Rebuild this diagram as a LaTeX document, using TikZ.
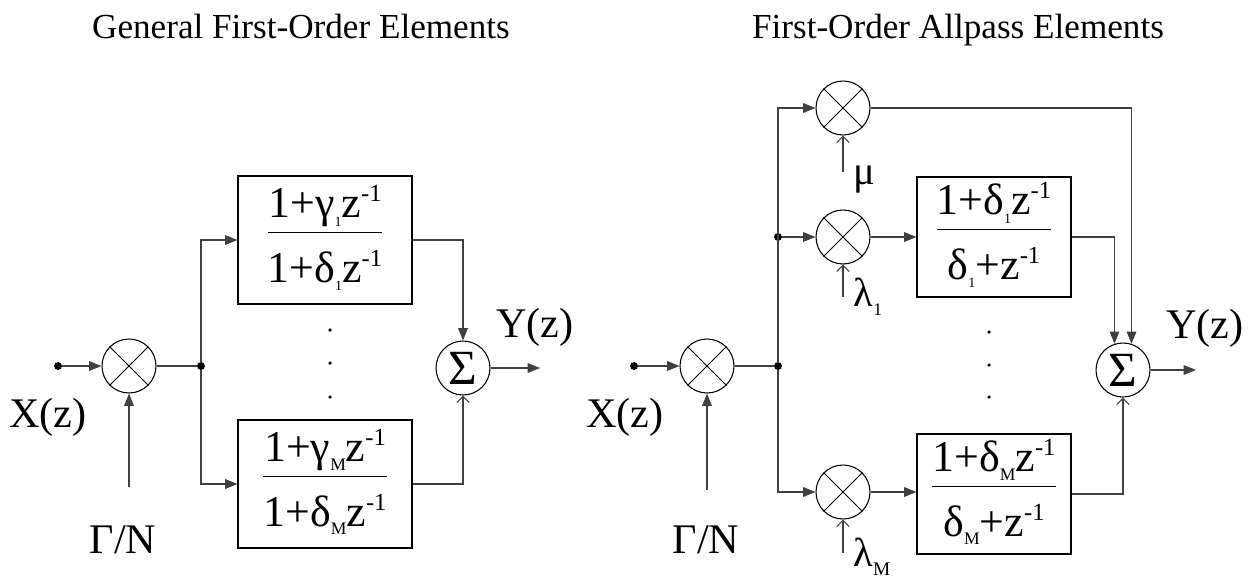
\documentclass[tikz,border=0pt]{standalone}
\usepackage{fontspec}
\setmainfont{Liberation Serif}
\usetikzlibrary{arrows.meta,positioning}

% small helpers for the transfer functions
\newcommand\sbs[2][8]{\raisebox{-5pt}{\fontsize{#1}{#1}\selectfont #2}}
\newcommand\pwr{\raisebox{9pt}{\fontsize{14}{14}\selectfont -1}}
\newcommand\frc[2]{\begin{tabular}{@{}c@{}}#1\\\hline\rule{0pt}{28pt}#2\end{tabular}}

\begin{document}
\begin{tikzpicture}[x=0.02cm,y=-0.02cm,
  line width=0.6pt,
  mult/.style={draw,circle,minimum size=1.08cm,inner sep=0pt},
  adder/.style={draw,circle,minimum size=1.08cm,inner sep=0pt,
                font=\fontsize{28}{28}\selectfont},
  blockL/.style={draw,minimum width=3.48cm,minimum height=2.56cm,inner sep=0pt,
                 font=\fontsize{25}{28}\selectfont},
  blockR/.style={blockL,minimum width=3.08cm,minimum height=2.4cm},
  junc/.style={circle,fill,inner sep=0pt,minimum size=4.5pt},
  pt/.style={circle,fill,inner sep=0pt,minimum size=2pt},
  big/.style={font=\fontsize{24}{28}\selectfont},
  coef/.style={font=\fontsize{23}{26}\selectfont},
  title/.style={anchor=base,font=\fontsize{20}{24}\selectfont},
  wire/.style={draw=black!75},
  arr/.style={wire,-{Triangle[length=7pt,width=5.5pt]}},
  barb/.style={wire,-{Straight Barb[length=3.5pt,width=7pt]}}
]
\useasboundingbox (0,0) rectangle (1251,579);

% Titles
\node[title] (tl) at (301,38) {General First-Order Elements};
\node[title] (tr) at (958,38) {First-Order Allpass Elements};

% General first-order elements
\node[junc] (inL) at (58,366) {};
\node[mult] (mulL) at (129,366) {};
\node[big] (xL) at (48,417) {X(z)};
\node[big] (gnL) at (123,540) {Γ/N};
\coordinate (gL) at (129,487);
\node[junc] (jL) at (201,366) {};
\node[blockL] (bL1) at (325,240) {\frc{1+γ\sbs{1}z\pwr}{1+δ\sbs{1}z\pwr}};
\node[blockL] (bLM) at (325,484) {\frc{1+γ\sbs[10]{M}z\pwr}{1+δ\sbs[10]{M}z\pwr}};
\node[adder] (sumL) at (463,368) {Σ};
\coordinate (oL) at (540,368);
\node[big] (yL) at (535,327) {Y(z)};
\foreach \y [count=\i] in {330,363,397}
  \node[pt] (dL\i) at (330,\y) {};

\draw[arr] (inL) -- (mulL);
\draw[arr] (gL) -- (mulL);
\draw[wire] (mulL) -- (jL);
\draw[arr] (jL) |- (bL1.west);
\draw[arr] (jL) |- (bLM.west);
\draw[arr] (bL1.east) -| (sumL.north);
\draw[barb] (bLM.east) -| (sumL.south);
\draw[arr] (sumL) -- (oL);

% First-order allpass elements
\node[junc] (inR) at (634,366) {};
\node[mult] (mulR) at (707,366) {};
\node[big] (xR) at (625,417) {X(z)};
\node[big] (gnR) at (706,540) {Γ/N};
\coordinate (gR) at (707,490);
\node[junc] (jR) at (778,366) {};
\node[junc] (jR1) at (778,237) {};
\node[mult] (mulMu) at (843,108) {};
\node[mult] (mulLa) at (843,237) {};
\node[mult] (mulLb) at (843,492) {};
\node[coef] (mu) at (864,180) {μ};
\node[coef] (la) at (868,297) {λ\sbs[10]{1}};
\node[coef] (lb) at (872,557) {λ\sbs[11]{M}};
\coordinate (muS) at (843,172);
\coordinate (laS) at (843,297);
\coordinate (lbS) at (843,553);
\node[blockR] (bR1) at (994,237) {\frc{1+δ\sbs{1}z\pwr}{δ\sbs{1}+z\pwr}};
\node[blockR] (bRM) at (994,494) {\frc{1+δ\sbs[10]{M}z\pwr}{δ\sbs[10]{M}+z\pwr}};
\node[adder] (sumR) at (1123,370) {Σ};
\coordinate (oR) at (1196,370);
\node[big] (yR) at (1205,328) {Y(z)};
\foreach \y [count=\i] in {332,365,397}
  \node[pt] (dR\i) at (989,\y) {};

\draw[arr] (inR) -- (mulR);
\draw[arr] (gR) -- (mulR);
\draw[wire] (mulR) -- (jR);
\draw[arr] (jR) |- (mulMu.west);
\draw[arr] (jR1) -- (mulLa.west);
\draw[arr] (jR) |- (mulLb.west);
\draw[barb] (muS) -- (mulMu.south);
\draw[barb] (laS) -- (mulLa.south);
\draw[barb] (lbS) -- (mulLb.south);
\draw[arr] (mulLa) -- (bR1.west);
\draw[arr] (mulLb.east) -- (mulLb.east -| bRM.west);
\draw[arr] (mulMu.east) -| (sumR.72);
\draw[arr] (bR1.east) -| (sumR.108);
\draw[barb] (bRM.east) -| (sumR.south);
\draw[arr] (sumR) -- (oR);

% crosses inside the multipliers
\foreach \m in {mulL,mulR,mulMu,mulLa,mulLb}
  \draw[line width=0.5pt] (\m.45) -- (\m.225) (\m.135) -- (\m.315);

\end{tikzpicture}
\end{document}
